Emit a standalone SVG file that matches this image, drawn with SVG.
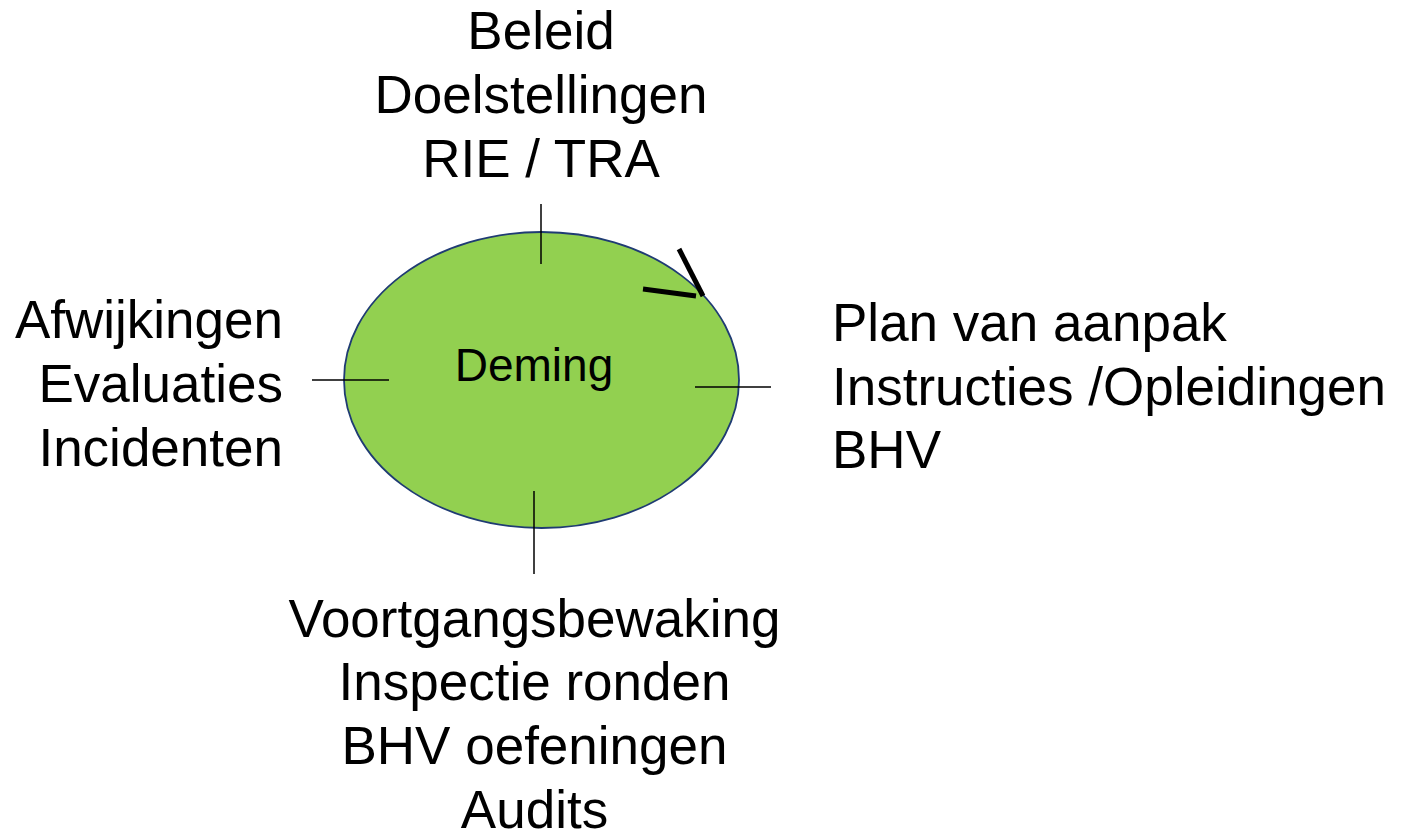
<svg xmlns="http://www.w3.org/2000/svg" width="1406" height="831" viewBox="0 0 1406 831">
<style>
.t{font-family:"Liberation Sans",Arial,sans-serif;font-size:53px;fill:#000}
.c{text-anchor:middle}
.r{text-anchor:end}
.tick{stroke:#000;stroke-width:1.5;fill:none}
.arr{stroke:#000;stroke-width:5;fill:none}
</style>
<rect width="1406" height="831" fill="#fff"/>
<g id="deming">
<ellipse cx="541.5" cy="380" rx="197.5" ry="148" fill="#92D050" stroke="#1F3B73" stroke-width="1.8"/>
<text class="t c" x="534" y="381" style="font-size:46px">Deming</text>
</g>
<g id="connectors">
<line class="tick" x1="541" y1="204" x2="541" y2="264"/>
<line class="tick" x1="312" y1="380" x2="389" y2="380"/>
<line class="tick" x1="695" y1="387" x2="771" y2="387"/>
<line class="tick" x1="534" y1="491" x2="534" y2="574"/>
<line class="arr" x1="643" y1="289" x2="696" y2="296"/>
<line class="arr" x1="679" y1="249" x2="703" y2="296"/>
</g>
<g id="plan">
<text class="t c" x="541" y="49">Beleid</text>
<text class="t c" x="541" y="113">Doelstellingen</text>
<text class="t c" x="541" y="177">RIE / TRA</text>
</g>
<g id="act">
<text class="t r" x="283" y="338">Afwijkingen</text>
<text class="t r" x="283" y="402">Evaluaties</text>
<text class="t r" x="283" y="466">Incidenten</text>
</g>
<g id="do">
<text class="t" x="832" y="341">Plan van aanpak</text>
<text class="t" x="832" y="405">Instructies /Opleidingen</text>
<text class="t" x="832" y="468">BHV</text>
</g>
<g id="check">
<text class="t c" x="534.5" y="637">Voortgangsbewaking</text>
<text class="t c" x="534.5" y="700">Inspectie ronden</text>
<text class="t c" x="534.5" y="764">BHV oefeningen</text>
<text class="t c" x="534.5" y="828">Audits</text>
</g>
</svg>
